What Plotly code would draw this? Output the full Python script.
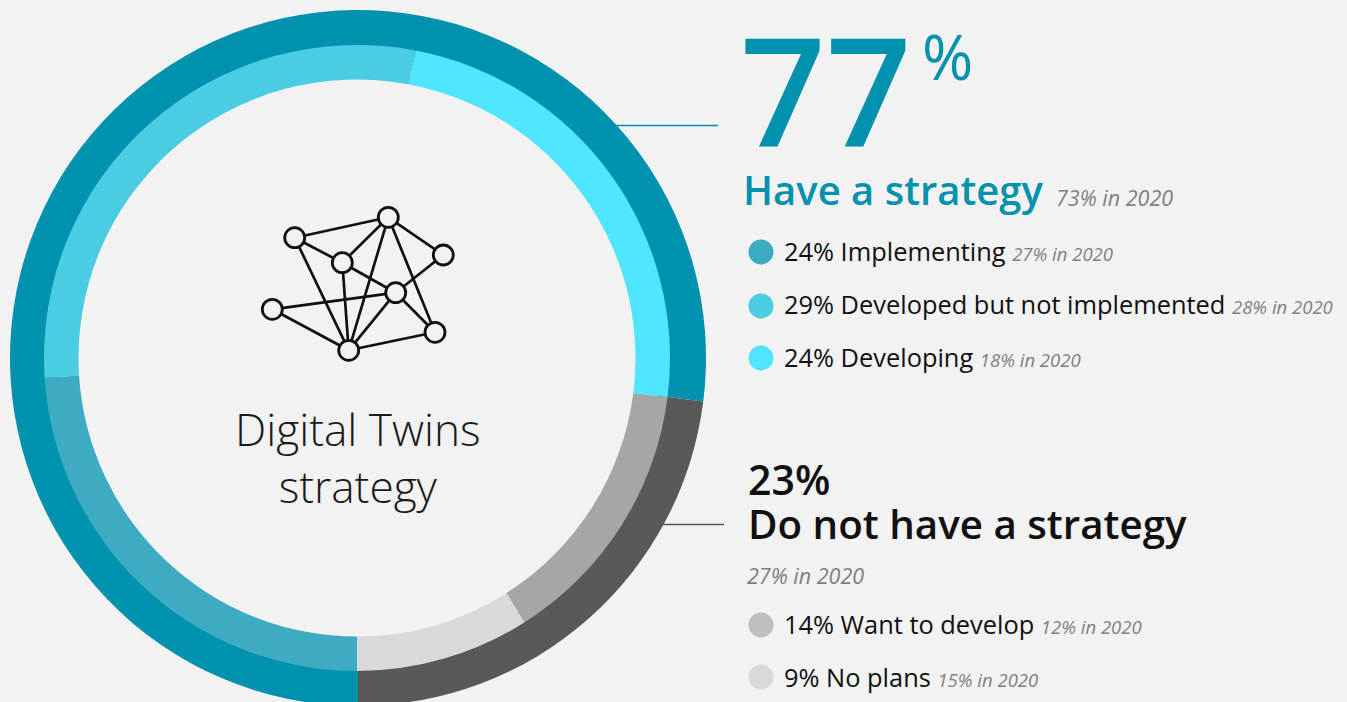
import plotly.graph_objects as go

# ring values, clockwise from the bottom
outer_labels = ["Have a strategy", "Do not have a strategy"]
outer_values = [77, 23]
inner_labels = ["Implementing", "Developed but not implemented", "Developing", "Want to develop", "No plans"]
inner_values = [24, 29, 24, 14, 9]
prior_values = [27, 28, 18, 12, 15]

have_total, have_prior = 77, 73
dont_total, dont_prior = 23, 27

# network icon
node_names = ["a", "b", "c", "d", "e", "f", "g", "h"]
node_x = [294.7, 388.3, 443.3, 342.3, 395.7, 272.3, 435, 348.7]
node_y = [237.7, 217.3, 255, 262.7, 292.7, 309.3, 332.3, 350.3]
edges = ["ab", "ad", "ah", "bd", "bh", "bc", "bg", "ce", "de", "dh", "ef", "eh", "eg", "fh", "gh"]

W, H = 1347, 706
TEAL = "#0091AE"
DARK = "#595959"
INK = "#111111"
GREY = "#808080"
BG = "#F2F2F2"
FONT = "Open Sans"


def ring_domain(cx, cy, r):
    return dict(x=[(cx - r) / W, (cx + r) / W], y=[1 - (cy + r) / H, 1 - (cy - r) / H])


def note(text, x, y, size, color=INK, weight=400, anchor="left"):
    return dict(text=text, x=x, y=y, xref="x", yref="y", xanchor=anchor, yanchor="middle",
                showarrow=False, align="center" if anchor == "center" else "left", borderpad=0,
                font=dict(family=FONT, size=size, color=color, weight=weight))


def prior(v, size=18.5):
    return f'<span style="font-size:{size}px;color:{GREY};font-weight:400"><i>{v}% in 2020</i></span>'


fig = go.Figure()

# icon
name_idx = {n: i for i, n in enumerate(node_names)}
ex, ey = [], []
for e in edges:
    p, q = name_idx[e[0]], name_idx[e[1]]
    ex += [node_x[p], node_x[q], None]
    ey += [node_y[p], node_y[q], None]
fig.add_trace(go.Scatter(x=ex, y=ey, mode="lines", line=dict(color="#111111", width=2.7), hoverinfo="skip"))
fig.add_trace(go.Scatter(x=node_x, y=node_y, mode="markers", hoverinfo="skip",
                         marker=dict(size=20, color=BG, line=dict(color="#111111", width=2.8))))

# legend dots
dot_x = [761] * 5
dot_y = [252, 306, 358, 625, 677]
dot_colors = ["#3DACC3", "#4ACCE3", "#50E6FF", "#BFBFBF", "#D9D9D9"]
fig.add_trace(go.Scatter(x=dot_x, y=dot_y, mode="markers", hoverinfo="skip",
                         marker=dict(size=25, color=dot_colors)))

# rings, the outer one runs on under the inner one so no seam shows
fig.add_trace(go.Pie(labels=outer_labels, values=outer_values, sort=False, direction="clockwise", rotation=180,
                     hole=300 / 348, domain=ring_domain(358, 358, 348), textinfo="none", hoverinfo="skip",
                     marker=dict(colors=[TEAL, DARK], line=dict(width=0)), showlegend=False))
fig.add_trace(go.Pie(labels=inner_labels, values=inner_values, sort=False, direction="clockwise", rotation=180,
                     hole=278.5 / 313, domain=ring_domain(357, 358, 313), textinfo="none", hoverinfo="skip",
                     marker=dict(colors=["#3DACC3", "#4ACCE3", "#50E6FF", "#A6A6A6", "#D9D9D9"], line=dict(width=0)),
                     showlegend=False))

notes = [
    note("Digital Twins<br>strategy", 358, 457, 44.2, "#1A1A1A", 300, "center"),
    note(f"{have_total}", 738.5, 88, 150, TEAL, 600),
    note("%", 921, 56, 62, TEAL, 400),
    note(outer_labels[0], 742, 189, 40, TEAL, 600),
    note(prior(have_prior, 21.5), 1055, 197, 21.5),
    note(f"{dont_total}%", 747, 479, 41, INK, 600),
    note(outer_labels[1], 747, 523, 40.3, INK, 600),
    note(prior(dont_prior, 21.5), 746, 575.5, 21.5),
]
row_y = [250.5, 303.5, 356.5, 623.5, 676.5]
for i, label in enumerate(inner_labels):
    notes.append(note(f"{inner_values[i]}% {label} " + prior(prior_values[i]), 783, row_y[i], 25.4))

fig.update_layout(
    width=W, height=H, autosize=False, showlegend=False,
    margin=dict(l=0, r=0, t=0, b=0), paper_bgcolor=BG, plot_bgcolor=BG,
    xaxis=dict(range=[0, W], visible=False, fixedrange=True),
    yaxis=dict(range=[H, 0], visible=False, fixedrange=True),
    annotations=notes,
    shapes=[
        dict(type="line", xref="x", yref="y", x0=612, x1=718, y0=125.5, y1=125.5, line=dict(color=TEAL, width=1.5)),
        dict(type="line", xref="x", yref="y", x0=660, x1=724, y0=524.5, y1=524.5, line=dict(color=DARK, width=1.5)),
    ],
)

fig.write_html("out.html", config=dict(displayModeBar=False),
               post_script="document.body.style.margin='0';document.documentElement.style.overflow='hidden';")
